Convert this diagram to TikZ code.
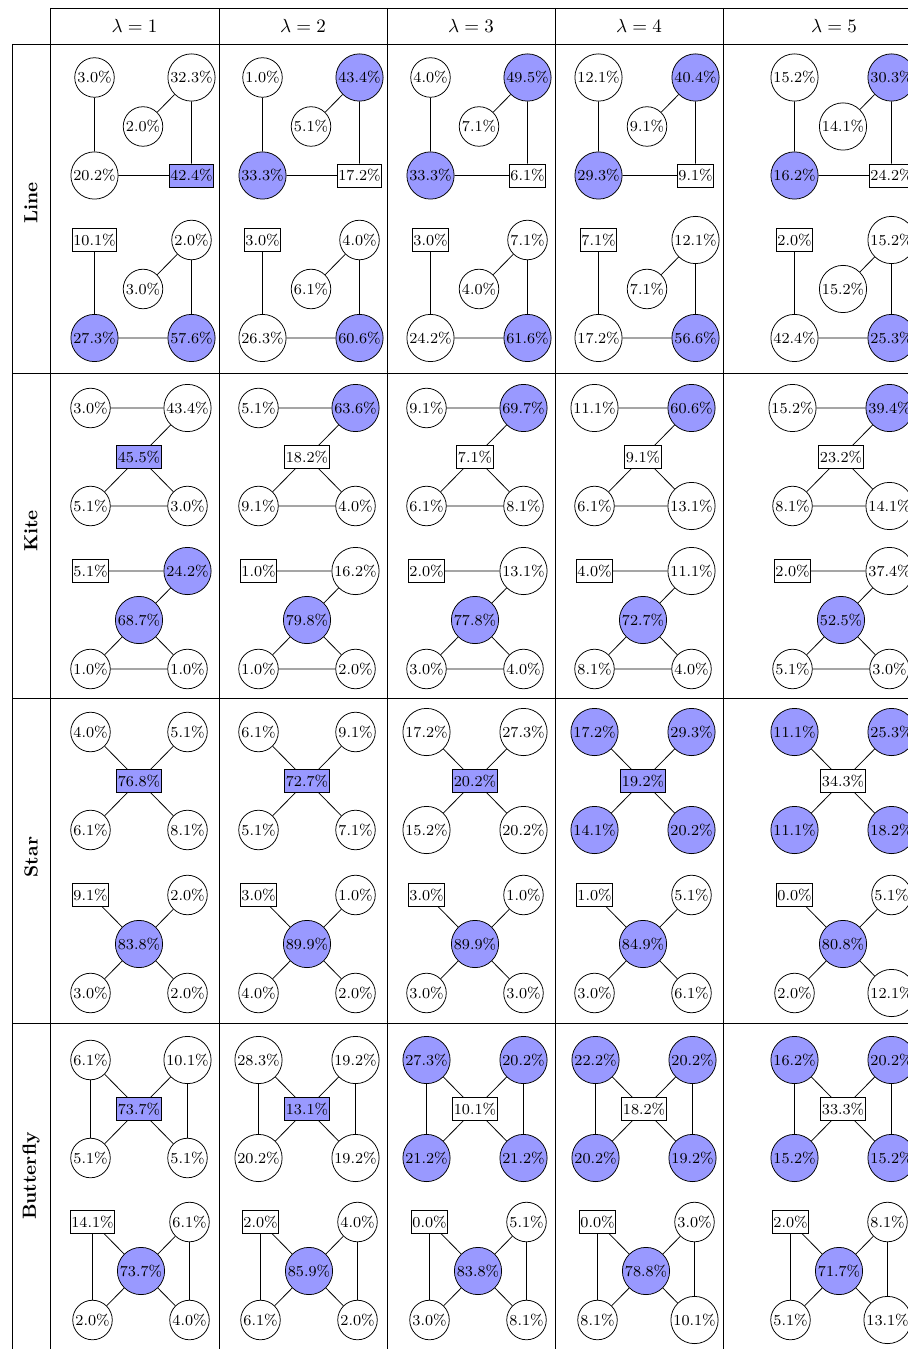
\documentclass[tikz,border=0pt]{standalone}
\usepackage{tikz}
\usetikzlibrary{positioning}
\colorlet{hit}{blue!40}

\tikzset{
  gnode/.style={draw, font=\footnotesize},
  wc/.style={gnode, circle, inner sep=0.7pt, fill=white},
  bc/.style={gnode, circle, inner sep=0.7pt, fill=hit},
  wr/.style={gnode, rectangle, inner xsep=0.6pt, inner ysep=2.8pt, fill=white},
  br/.style={gnode, rectangle, inner xsep=0.6pt, inner ysep=2.8pt, fill=hit},
}

% edges of the four graph kinds (nodes n1..n5 = TL, TR, M, BL, BR)
\newcommand{\edgesline}{\draw (n1) -- (n4) -- (n5) -- (n2) -- (n3);}
\newcommand{\edgeskite}{\draw (n1) -- (n2) -- (n3) -- (n4) -- (n5) -- (n3);}
\newcommand{\edgesstar}{\foreach \j in {1,2,4,5} \draw (n3) -- (n\j);}
\newcommand{\edgesbfly}{\draw (n1) -- (n4); \draw (n2) -- (n5);
  \foreach \j in {1,2,4,5} \draw (n3) -- (n\j);}

\newcommand{\cellgraph}[3]{% #1 kind, #2 centre, #3 style/value for TL,TR,M,BL,BR
  \begin{scope}[shift={#2}]
    \coordinate (p1) at (-48.5,-49);
    \coordinate (p2) at (48.5,-49);
    \coordinate (p3) at (0,0);
    \coordinate (p4) at (-48.5,49);
    \coordinate (p5) at (48.5,49);
    \foreach \s/\v [count=\i] in {#3}
      \node[\s] (n\i) at (p\i) {\v\%};
    \csname edges#1\endcsname
  \end{scope}}

\begin{document}
\begin{tikzpicture}[x=0.526pt, y=-0.526pt]
  \useasboundingbox (0,0) rectangle (908,1349);

  % table rules
  \draw (50,8) -- (960,8);
  \foreach \y in {44,373,698,1023} \draw (12,\y) -- (960,\y);
  \draw (12,44) -- (12,1360);
  \foreach \x in {50,219,387,555,723} \draw (\x,8) -- (\x,1360);

  % header
  \foreach \x [count=\k] in {134.5,303,471,639,834}
    \node (head\k) at (\x,26) {$\lambda = \k$};

  % row labels
  \foreach \y/\name in {203/Line, 531/Kite, 857/Star, 1176/Butterfly}
    \node[rotate=90, font=\bfseries] (lab\name) at (31,\y) {\name};

  % Line
  \cellgraph{line}{(143,126.5)}{wc/3.0, wc/32.3, wc/2.0, wc/20.2, br/42.4}
  \cellgraph{line}{(143,289)}{wr/10.1, wc/2.0, wc/3.0, bc/27.3, bc/57.6}
  \cellgraph{line}{(311,126.5)}{wc/1.0, bc/43.4, wc/5.1, bc/33.3, wr/17.2}
  \cellgraph{line}{(311,289)}{wr/3.0, wc/4.0, wc/6.1, wc/26.3, bc/60.6}
  \cellgraph{line}{(479,126.5)}{wc/4.0, bc/49.5, wc/7.1, bc/33.3, wr/6.1}
  \cellgraph{line}{(479,289)}{wr/3.0, wc/7.1, wc/4.0, wc/24.2, bc/61.6}
  \cellgraph{line}{(647,126.5)}{wc/12.1, bc/40.4, wc/9.1, bc/29.3, wr/9.1}
  \cellgraph{line}{(647,289)}{wr/7.1, wc/12.1, wc/7.1, wc/17.2, bc/56.6}
  \cellgraph{line}{(843,126.5)}{wc/15.2, bc/30.3, wc/14.1, bc/16.2, wr/24.2}
  \cellgraph{line}{(843,289)}{wr/2.0, wc/15.2, wc/15.2, wc/42.4, bc/25.3}

  % Kite
  \cellgraph{kite}{(139,457)}{wc/3.0, wc/43.4, br/45.5, wc/5.1, wc/3.0}
  \cellgraph{kite}{(139,620)}{wr/5.1, bc/24.2, bc/68.7, wc/1.0, wc/1.0}
  \cellgraph{kite}{(307,457)}{wc/5.1, bc/63.6, wr/18.2, wc/9.1, wc/4.0}
  \cellgraph{kite}{(307,620)}{wr/1.0, wc/16.2, bc/79.8, wc/1.0, wc/2.0}
  \cellgraph{kite}{(475,457)}{wc/9.1, bc/69.7, wr/7.1, wc/6.1, wc/8.1}
  \cellgraph{kite}{(475,620)}{wr/2.0, wc/13.1, bc/77.8, wc/3.0, wc/4.0}
  \cellgraph{kite}{(643,457)}{wc/11.1, bc/60.6, wr/9.1, wc/6.1, wc/13.1}
  \cellgraph{kite}{(643,620)}{wr/4.0, wc/11.1, bc/72.7, wc/8.1, wc/4.0}
  \cellgraph{kite}{(841,457)}{wc/15.2, bc/39.4, wr/23.2, wc/8.1, wc/14.1}
  \cellgraph{kite}{(841,620)}{wr/2.0, wc/37.4, bc/52.5, wc/5.1, wc/3.0}

  % Star
  \cellgraph{star}{(139,781)}{wc/4.0, wc/5.1, br/76.8, wc/6.1, wc/8.1}
  \cellgraph{star}{(139,944)}{wr/9.1, wc/2.0, bc/83.8, wc/3.0, wc/2.0}
  \cellgraph{star}{(307,781)}{wc/6.1, wc/9.1, br/72.7, wc/5.1, wc/7.1}
  \cellgraph{star}{(307,944)}{wr/3.0, wc/1.0, bc/89.9, wc/4.0, wc/2.0}
  \cellgraph{star}{(475,781)}{wc/17.2, wc/27.3, br/20.2, wc/15.2, wc/20.2}
  \cellgraph{star}{(475,944)}{wr/3.0, wc/1.0, bc/89.9, wc/3.0, wc/3.0}
  \cellgraph{star}{(643,781)}{bc/17.2, bc/29.3, br/19.2, bc/14.1, bc/20.2}
  \cellgraph{star}{(643,944)}{wr/1.0, wc/5.1, bc/84.9, wc/3.0, wc/6.1}
  \cellgraph{star}{(843,781)}{bc/11.1, bc/25.3, wr/34.3, bc/11.1, bc/18.2}
  \cellgraph{star}{(843,944)}{wr/0.0, wc/5.1, bc/80.8, wc/2.0, wc/12.1}

  % Butterfly
  \cellgraph{bfly}{(139,1109)}{wc/6.1, wc/10.1, br/73.7, wc/5.1, wc/5.1}
  \cellgraph{bfly}{(141,1271)}{wr/14.1, wc/6.1, bc/73.7, wc/2.0, wc/4.0}
  \cellgraph{bfly}{(307,1109)}{wc/28.3, wc/19.2, br/13.1, wc/20.2, wc/19.2}
  \cellgraph{bfly}{(309,1271)}{wr/2.0, wc/4.0, bc/85.9, wc/6.1, wc/2.0}
  \cellgraph{bfly}{(475,1109)}{bc/27.3, bc/20.2, wr/10.1, bc/21.2, bc/21.2}
  \cellgraph{bfly}{(478,1271)}{wr/0.0, wc/5.1, bc/83.8, wc/3.0, wc/8.1}
  \cellgraph{bfly}{(644,1109)}{bc/22.2, bc/20.2, wr/18.2, bc/20.2, bc/19.2}
  \cellgraph{bfly}{(646,1271)}{wr/0.0, wc/3.0, bc/78.8, wc/8.1, wc/10.1}
  \cellgraph{bfly}{(843,1109)}{bc/16.2, bc/20.2, wr/33.3, bc/15.2, bc/15.2}
  \cellgraph{bfly}{(839,1271)}{wr/2.0, wc/8.1, bc/71.7, wc/5.1, wc/13.1}
\end{tikzpicture}
\end{document}
